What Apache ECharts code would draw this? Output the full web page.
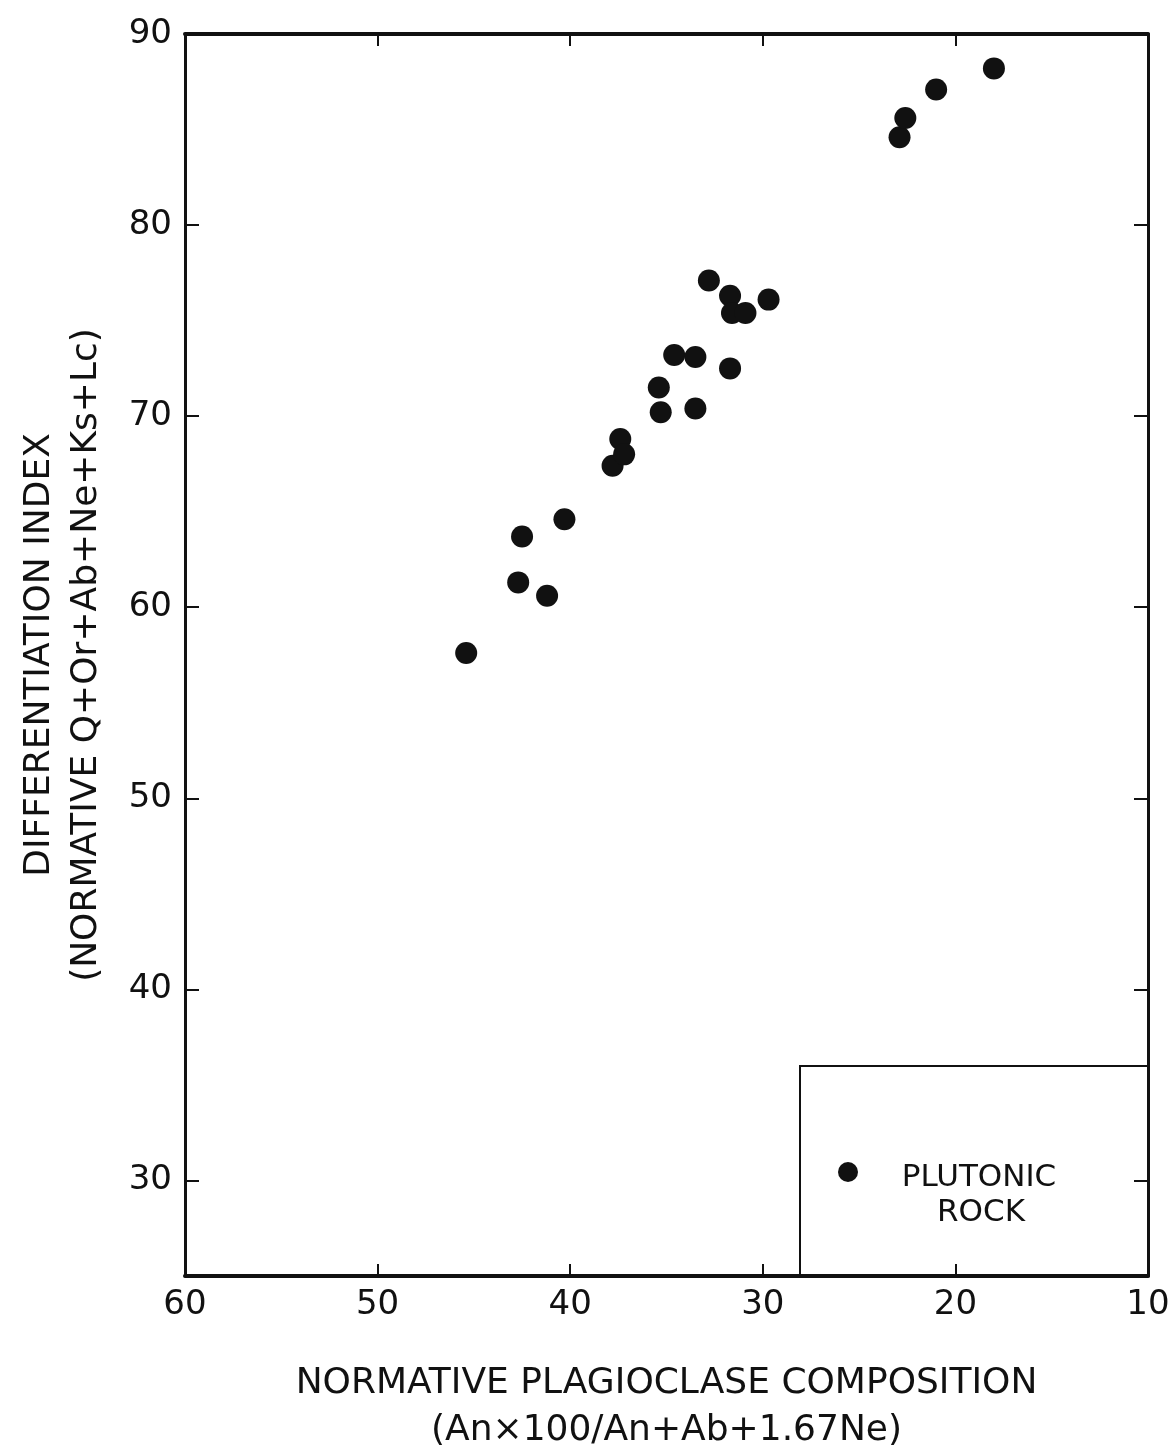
<!DOCTYPE html>
<html>
<head>
<meta charset="utf-8">
<script src="https://cdn.jsdelivr.net/npm/echarts@6/dist/echarts.min.js"></script>
<style>
  html, body { margin: 0; padding: 0; background: #fff; }
  #container { width: 1169px; height: 1451px; }
</style>
</head>
<body>
<div id="container"></div>
<script>
// normative plagioclase composition (x) vs differentiation index (y)
let plagioclase = [45.4, 42.7, 42.5, 41.2, 40.3, 37.8, 37.4, 37.2, 35.4, 35.3,
  34.6, 33.5, 33.5, 32.8, 31.7, 31.6, 30.9, 31.7, 29.7, 22.9, 22.6, 21.0, 18.0];
let diffIndex = [57.6, 61.3, 63.7, 60.6, 64.6, 67.4, 68.8, 68.0, 71.5, 70.2,
  73.2, 73.1, 70.4, 77.1, 76.3, 75.4, 75.4, 72.5, 76.1, 84.6, 85.6, 87.1, 88.2];
let yTicks = [30, 40, 50, 60, 70, 80, 90];

let dom = document.getElementById('container');
let myChart = echarts.init(dom);

let points = [];
for (let i = 0; i < plagioclase.length; i++) {
  points.push([plagioclase[i], diffIndex[i]]);
}

let font = 'DejaVu Sans';
let ink = '#111';

let option = {
  animation: false,
  grid: { left: 185, right: 21, top: 34, bottom: 175, outerBoundsMode: 'none' },
  xAxis: [{
    type: 'value',
    position: 'bottom',
    min: 10,
    max: 60,
    interval: 10,
    inverse: true,
    name: 'NORMATIVE PLAGIOCLASE COMPOSITION\n(An×100/An+Ab+1.67Ne)',
    nameLocation: 'middle',
    nameGap: 84,
    nameTextStyle: { fontFamily: font, fontSize: 36, color: ink, lineHeight: 47 },
    axisLine: { lineStyle: { color: ink, width: 4 } },
    axisTick: { inside: true, length: 12, lineStyle: { color: ink, width: 2 } },
    axisLabel: { margin: 12, fontFamily: font, fontSize: 34, color: ink },
    splitLine: { show: false }
  }, {
    type: 'value',
    position: 'top',
    min: 10,
    max: 60,
    interval: 10,
    inverse: true,
    axisLine: { lineStyle: { color: ink, width: 4 } },
    axisTick: { inside: true, length: 12, lineStyle: { color: ink, width: 2 } },
    axisLabel: { show: false },
    splitLine: { show: false }
  }],
  yAxis: [{
    type: 'value',
    position: 'left',
    min: 25,
    max: 90,
    name: 'DIFFERENTIATION INDEX\n(NORMATIVE Q+Or+Ab+Ne+Ks+Lc)',
    nameLocation: 'middle',
    nameRotate: 90,
    nameGap: 75,
    nameTextStyle: { fontFamily: font, fontSize: 36, color: ink, lineHeight: 47 },
    axisLine: { lineStyle: { color: ink, width: 3 } },
    axisTick: { inside: true, length: 14, customValues: yTicks, lineStyle: { color: ink, width: 2 } },
    axisLabel: { margin: 13, fontFamily: font, fontSize: 34, color: ink, customValues: yTicks },
    splitLine: { show: false }
  }, {
    type: 'value',
    position: 'right',
    min: 25,
    max: 90,
    axisLine: { lineStyle: { color: ink, width: 3 } },
    axisTick: { inside: true, length: 14, customValues: yTicks, lineStyle: { color: ink, width: 2 } },
    axisLabel: { show: false },
    splitLine: { show: false }
  }],
  series: [{
    name: 'PLUTONIC ROCK',
    type: 'scatter',
    xAxisIndex: 0,
    yAxisIndex: 0,
    symbol: 'circle',
    symbolSize: 22,
    itemStyle: { color: ink, opacity: 1 },
    data: points
  }],
  // legend box in the lower right corner
  graphic: [{
    type: 'rect',
    shape: { x: 800, y: 1066, width: 348, height: 210 },
    style: { fill: 'transparent', stroke: ink, lineWidth: 2 },
    z: 10
  }, {
    type: 'circle',
    shape: { cx: 848, cy: 1172, r: 10 },
    style: { fill: ink },
    z: 11
  }, {
    type: 'text',
    x: 979,
    y: 1178,
    style: {
      text: 'PLUTONIC',
      font: '31px "DejaVu Sans"',
      fill: ink,
      align: 'center',
      verticalAlign: 'middle'
    },
    z: 11
  }, {
    type: 'text',
    x: 981,
    y: 1213,
    style: {
      text: 'ROCK',
      font: '31px "DejaVu Sans"',
      fill: ink,
      align: 'center',
      verticalAlign: 'middle'
    },
    z: 11
  }]
};

myChart.setOption(option);
</script>
</body>
</html>
